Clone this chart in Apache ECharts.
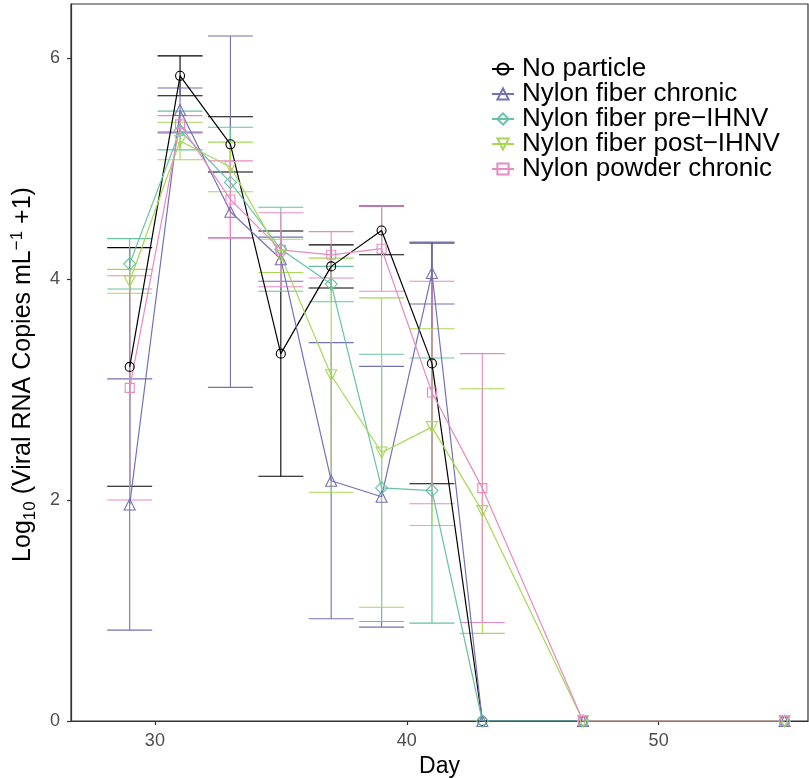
<!DOCTYPE html>
<html>
<head>
<meta charset="utf-8">
<script src="https://cdn.jsdelivr.net/npm/echarts@6/dist/echarts.min.js"></script>
<style>html,body{margin:0;padding:0;background:#fff}#c{width:809px;height:778px}</style>
</head>
<body>
<div id="c"></div>
<script>
const days = [29, 31, 33, 35, 37, 39, 41, 43, 47, 55];
const seriesNames = ['No particle', 'Nylon fiber chronic', 'Nylon fiber pre\u2212IHNV', 'Nylon fiber post\u2212IHNV', 'Nylon powder chronic'];
const noParticleMean = [3.205, 5.84, 5.22, 3.325, 4.115, 4.44, 3.237, 0, 0, 0];
const noParticleSd   = [1.08, 0.18, 0.25, 1.11, 0.195, 0.22, 1.09, 0, 0, 0];
const fiberChronicMean = [1.96, 5.53, 4.61, 4.18, 2.175, 2.03, 4.055, 0, 0, 0];
const fiberChronicSd   = [1.137, 0.2, 1.59, 0.2, 1.25, 1.18, 0.28, 0, 0, 0];
const fiberPreMean = [4.138, 5.345, 4.875, 4.27, 3.955, 2.11, 2.086, 0, 0, 0];
const fiberPreSd   = [0.228, 0.175, 0.5, 0.38, 0.16, 1.21, 1.2, 0, 0, 0];
const fiberPostMean = [3.98, 5.25, 5.015, 4.21, 3.13, 2.43, 2.66, 1.90, 0, 0];
const fiberPostSd   = [0.108, 0.17, 0.225, 0.15, 1.06, 1.4, 0.89, 1.107, 0, 0];
const powderMean = [3.015, 5.40, 4.72, 4.265, 4.22, 4.275, 2.973, 2.108, 0, 0];
const powderSd   = [1.015, 0.08, 0.35, 0.335, 0.21, 0.385, 1.007, 1.217, 0, 0];
const xTicks = [30, 40, 50];
const yTicks = [0, 2, 4, 6];

const means = [noParticleMean, fiberChronicMean, fiberPreMean, fiberPostMean, powderMean];
const sds = [noParticleSd, fiberChronicSd, fiberPreSd, fiberPostSd, powderSd];
const colors = ['#000000', '#7570B3', '#66C2A5', '#A6D854', '#E78AC3'];
const symbols = ['circle', 'triangle', 'diamond', 'triangle', 'rect'];
const symbolRot = [0, 0, 0, 180, 0];
const symbolSizes = [9, 11, 12, 11, 9];

const series = [];
for (let k = 0; k < 5; k++) {
  const c = colors[k];
  series.push({
    name: seriesNames[k] + ' err',
    type: 'custom',
    data: days.map((d, i) => [d, means[k][i], sds[k][i]]),
    z: 1,
    renderItem: function (params, api) {
      const x = api.value(0), m = api.value(1), s = api.value(2);
      if (!s) return null;
      const t = api.coord([x, m + s]);
      const b = api.coord([x, m - s]);
      const hw = 22.5;
      const st = { stroke: c, lineWidth: 1.1 };
      return {
        type: 'group',
        children: [
          { type: 'line', shape: { x1: t[0], y1: t[1], x2: b[0], y2: b[1] }, style: st },
          { type: 'line', shape: { x1: t[0] - hw, y1: t[1], x2: t[0] + hw, y2: t[1] }, style: st },
          { type: 'line', shape: { x1: b[0] - hw, y1: b[1], x2: b[0] + hw, y2: b[1] }, style: st }
        ]
      };
    }
  });
}
for (let k = 0; k < 5; k++) {
  const c = colors[k];
  series.push({
    name: seriesNames[k],
    type: 'line',
    data: days.map((d, i) => [d, means[k][i]]),
    symbol: symbols[k],
    symbolRotate: symbolRot[k],
    symbolSize: symbolSizes[k],
    showAllSymbol: true,
    z: 2,
    lineStyle: { color: c, width: 1.2 },
    itemStyle: { color: 'rgba(255,255,255,0)', borderColor: c, borderWidth: 1.1 },
    emphasis: { disabled: true }
  });
}

const chart = echarts.init(document.getElementById('c'), null, { renderer: 'canvas' });
chart.setOption({
  animation: false,
  backgroundColor: '#fff',
  textStyle: { fontFamily: 'Liberation Sans, Arial, sans-serif' },
  grid: { left: 71, right: 1, top: 4, bottom: 57, show: true, borderColor: '#333', borderWidth: 1.2, containLabel: false, outerBoundsMode: 'none' },
  legend: {
    data: seriesNames,
    orient: 'vertical',
    left: 486,
    top: 51,
    itemWidth: 22,
    itemHeight: 14,
    itemGap: -1,
    textStyle: { fontSize: 26, color: '#000', lineHeight: 24, padding: [0, 0, 0, 3], fontFamily: 'Liberation Sans, Arial, sans-serif' }
  },
  xAxis: {
    type: 'value',
    min: 26.67,
    max: 55.93,
    name: 'Day',
    nameLocation: 'middle',
    nameGap: 31,
    nameTextStyle: { fontSize: 23, color: '#000' },
    axisLine: { show: true, lineStyle: { color: '#333', width: 1.2 } },
    axisTick: { show: true, length: 4, customValues: xTicks, lineStyle: { color: '#333', width: 1.2 } },
    axisLabel: { customValues: xTicks, fontSize: 18, color: '#4d4d4d', margin: 11 },
    splitLine: { show: false }
  },
  yAxis: {
    type: 'value',
    min: 0,
    max: 6.49,
    name: '{a|Log}{sub|10}{a| (Viral RNA Copies mL}{sup|\u22121}{a| +1)}',
    nameLocation: 'middle',
    nameRotate: 90,
    nameGap: 25,
    nameTextStyle: {
      color: '#000',
      padding: [0, 24, 0, 0],
      rich: {
        a: { fontSize: 25, lineHeight: 28, verticalAlign: 'middle', color: '#000' },
        sub: { fontSize: 17, lineHeight: 15, verticalAlign: 'bottom', color: '#000', padding: [0, 0, -2, 0] },
        sup: { fontSize: 17, lineHeight: 15, verticalAlign: 'top', color: '#000' }
      }
    },
    axisLine: { show: true, lineStyle: { color: '#333', width: 1.2 } },
    axisTick: { show: true, length: 4, customValues: yTicks, lineStyle: { color: '#333', width: 1.2 } },
    axisLabel: { customValues: yTicks, fontSize: 18, color: '#4d4d4d', margin: 11 },
    splitLine: { show: false }
  },
  series: series
});
</script>
</body>
</html>
